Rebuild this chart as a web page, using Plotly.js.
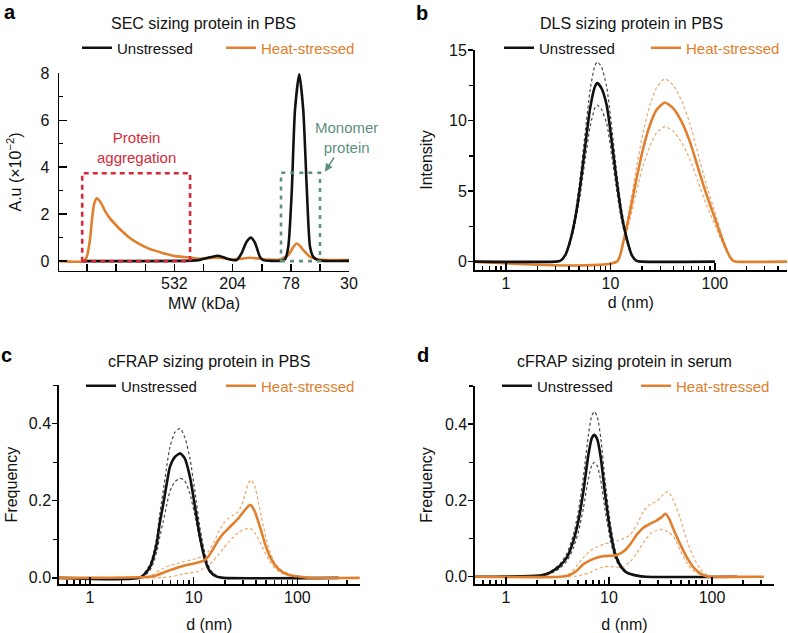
<!DOCTYPE html>
<html>
<head>
<meta charset="utf-8">
<script src="https://cdn.plot.ly/plotly-3.0.1.min.js"></script>
<style>html,body{margin:0;padding:0;background:#fff;overflow:hidden;}#chart{width:788px;height:633px;}</style>
</head>
<body>
<div id="chart"></div>
<script>
// ---------- Panel a : SEC (x = MW in kDa) ----------
const secHeatMW = [3500, 2344, 2254, 2138, 2056, 1990, 1914, 1862, 1762, 1668, 1538, 1416, 1268, 1138, 964, 818, 656, 527, 424, 349, 280, 251, 202, 153, 116, 93.5, 81.5, 75, 71, 67.2, 63.7, 57, 48.3, 30];
const secHeat   = [0, 0, 0.18, 0.89, 1.89, 2.46, 2.67, 2.63, 2.43, 2.14, 1.82, 1.58, 1.29, 1.04, 0.75, 0.54, 0.36, 0.21, 0.16, 0.10, 0.14, 0.14, 0.07, 0.14, 0.07, 0.07, 0.26, 0.60, 0.75, 0.65, 0.47, 0.18, 0.07, 0.04];
const secUnstrMW = [2400, 400, 349, 296, 258, 225, 191, 176, 162, 151, 141, 130, 123, 93.5, 86.1, 81.5, 77.1, 73, 68, 63.7, 60.2, 57, 54, 49.7, 30];
const secUnstr   = [0, 0.02, 0.05, 0.16, 0.23, 0.11, 0.04, 0.33, 0.82, 1.0, 0.78, 0.18, 0.04, 0.01, 0.07, 0.61, 2.88, 6.43, 7.97, 6.43, 3.18, 0.61, 0.18, 0.04, 0.01];
const secTickVals = [532, 204, 78, 30];
const secTickText = ['532', '204', '78', '30'];
const secMinorVals = [2239, 1387, 859, 330, 126, 48.4];

// ---------- Panel b : DLS ----------
const dlsUnstrD  = [0.5, 3.0, 3.3, 3.7, 4.1, 4.6, 5.1, 5.7, 6.4, 7.1, 7.5, 8.2, 9.2, 10.3, 11.5, 12.8, 14.3, 16, 17.8, 20, 100];
const dlsUnstr   = [0, 0, 0.05, 0.47, 1.42, 3.07, 5.2, 8.04, 10.9, 12.4, 12.65, 12.3, 11.1, 8.5, 5.67, 3.3, 1.65, 0.47, 0.05, 0, 0];
const dlsUnstrHi = [0, 0, 0.05, 0.5, 1.55, 3.4, 5.8, 9.0, 12.2, 13.9, 14.15, 13.8, 12.4, 9.5, 6.3, 3.7, 1.85, 0.52, 0.05, 0, 0];
const dlsUnstrLo = [0, 0, 0.05, 0.42, 1.25, 2.7, 4.6, 7.1, 9.6, 10.9, 11.1, 10.8, 9.8, 7.5, 5.0, 2.9, 1.45, 0.42, 0.05, 0, 0];
const dlsHeatD   = [0.5, 11.5, 13.3, 15.4, 17.8, 20.6, 23.9, 27.7, 33.2, 39.9, 48, 57.6, 69.2, 83.3, 100, 120, 139, 150, 160, 490];
const dlsHeat    = [0, 0, 1.42, 3.55, 5.9, 8.04, 9.69, 10.76, 11.28, 10.87, 9.93, 8.51, 6.62, 4.73, 3.07, 1.42, 0.35, 0.05, 0, 0];
const dlsHeatHi  = [0, 0, 1.55, 4.0, 6.7, 9.2, 11.1, 12.35, 12.95, 12.5, 11.4, 9.8, 7.6, 5.4, 3.5, 1.6, 0.4, 0.05, 0, 0];
const dlsHeatLo  = [0, 0, 1.25, 3.0, 5.0, 6.85, 8.2, 9.15, 9.57, 9.25, 8.45, 7.25, 5.65, 4.0, 2.6, 1.2, 0.3, 0.05, 0, 0];

// ---------- Panel c : cFRAP in PBS ----------
const pbsUnstrD  = [0.5, 3.0, 3.5, 3.8, 4.1, 4.4, 4.7, 5.1, 5.5, 5.9, 6.6, 7.4, 8.2, 9.2, 10.3, 11.5, 12.9, 14.4, 16.7, 19.3, 250];
const pbsUnstr   = [0, 0, 0.015, 0.029, 0.055, 0.089, 0.141, 0.193, 0.245, 0.288, 0.314, 0.323, 0.31, 0.262, 0.184, 0.106, 0.046, 0.016, 0.003, 0, 0];
const pbsUnstrHi = [0, 0, 0.02, 0.035, 0.065, 0.105, 0.165, 0.228, 0.29, 0.34, 0.378, 0.388, 0.365, 0.31, 0.222, 0.13, 0.06, 0.022, 0.005, 0, 0];
const pbsUnstrLo = [0, 0, 0.01, 0.02, 0.04, 0.068, 0.105, 0.148, 0.19, 0.225, 0.25, 0.258, 0.252, 0.218, 0.16, 0.095, 0.045, 0.016, 0.003, 0, 0];
const pbsHeatD   = [0.5, 3.8, 4.4, 5.1, 5.9, 6.9, 7.9, 9.2, 10.7, 12.4, 13.8, 15.5, 17.3, 19.3, 21.6, 24.1, 26.9, 30.1, 33.6, 35.5, 39, 43.6, 48.7, 54.4, 60.8, 70.6, 84.8, 106, 132, 400];
const pbsHeat    = [0, 0.003, 0.007, 0.013, 0.02, 0.026, 0.031, 0.035, 0.039, 0.044, 0.055, 0.076, 0.098, 0.115, 0.128, 0.141, 0.154, 0.171, 0.186, 0.189, 0.171, 0.132, 0.089, 0.055, 0.033, 0.016, 0.007, 0.003, 0, 0];
const pbsHeatHi  = [0, 0.005, 0.015, 0.025, 0.032, 0.037, 0.042, 0.046, 0.05, 0.058, 0.068, 0.09, 0.118, 0.14, 0.154, 0.163, 0.171, 0.2, 0.245, 0.254, 0.236, 0.176, 0.115, 0.068, 0.038, 0.02, 0.009, 0.004, 0.001, 0];
const pbsHeatLo  = [0, 0, 0, 0.001, 0.003, 0.006, 0.01, 0.013, 0.016, 0.024, 0.032, 0.045, 0.06, 0.077, 0.092, 0.106, 0.117, 0.125, 0.128, 0.127, 0.117, 0.092, 0.066, 0.042, 0.024, 0.012, 0.005, 0.002, 0, 0];

// ---------- Panel d : cFRAP in serum ----------
const serUnstrD  = [0.5, 2.14, 2.49, 2.89, 3.35, 3.89, 4.52, 5.05, 5.65, 6.32, 6.81, 7.22, 7.73, 8.34, 9.18, 10.3, 11.5, 12.9, 14.9, 18.7, 23, 175];
const serUnstr   = [0, 0.003, 0.007, 0.016, 0.029, 0.05, 0.094, 0.146, 0.224, 0.32, 0.363, 0.372, 0.359, 0.311, 0.216, 0.12, 0.059, 0.029, 0.011, 0.003, 0, 0];
const serUnstrHi = [0, 0.004, 0.009, 0.019, 0.034, 0.06, 0.11, 0.172, 0.262, 0.372, 0.422, 0.433, 0.418, 0.362, 0.252, 0.142, 0.07, 0.034, 0.013, 0.004, 0, 0];
const serUnstrLo = [0, 0.002, 0.005, 0.012, 0.023, 0.04, 0.076, 0.118, 0.18, 0.258, 0.292, 0.3, 0.29, 0.251, 0.175, 0.097, 0.048, 0.024, 0.009, 0.002, 0, 0];
const serHeatD   = [0.5, 3.35, 4.2, 4.87, 5.65, 6.56, 7.62, 8.85, 10.3, 11.9, 13.8, 16.1, 18.7, 21.7, 25.2, 29.2, 32.7, 35.2, 37.9, 42.4, 49.3, 57.3, 66.4, 77.1, 89.6, 100, 320];
const serHeat    = [0, 0, 0.005, 0.016, 0.033, 0.043, 0.05, 0.054, 0.055, 0.057, 0.066, 0.085, 0.111, 0.129, 0.139, 0.148, 0.157, 0.165, 0.155, 0.124, 0.085, 0.05, 0.024, 0.009, 0.001, 0, 0];
const serHeatHi  = [0, 0, 0.009, 0.029, 0.05, 0.068, 0.078, 0.085, 0.09, 0.094, 0.1, 0.11, 0.137, 0.172, 0.19, 0.198, 0.212, 0.221, 0.222, 0.2, 0.152, 0.094, 0.05, 0.02, 0.005, 0, 0];
const serHeatLo  = [0, 0, 0, 0.002, 0.006, 0.011, 0.02, 0.026, 0.027, 0.025, 0.026, 0.04, 0.063, 0.09, 0.113, 0.122, 0.124, 0.122, 0.117, 0.105, 0.068, 0.035, 0.015, 0.006, 0, 0, 0];

// ---------- shared tick labels ----------
const logTickVals = [1, 10, 100];
const logTickText = ['1', '10', '100'];
const logMinorVals = [0.6, 0.7, 0.8, 0.9, 2, 3, 4, 5, 6, 7, 8, 9, 20, 30, 40, 50, 60, 70, 80, 90, 200, 300, 400];
const seriesNames = ['Unstressed', 'Heat-stressed'];

// ---------- styling ----------
const FONT = 'Liberation Sans, Arial, sans-serif';
const BLACK = '#111111', BLACK_D = '#4a4a4a';
const ORANGE = '#E0802E', ORANGE_D = '#EBA66C';
const RED = '#D42A3A', GREEN = '#5E9080';
const W = 788, H = 633;
const px = v => v / W, py = v => 1 - v / H;

function solid(x, y, color, xa, ya, name, leg, rank) {
  return {x: x, y: y, type: 'scatter', mode: 'lines', xaxis: xa, yaxis: ya,
    line: {color: color, width: 2.6, shape: 'spline', smoothing: 0.6},
    name: name, legend: leg, showlegend: !!name, legendrank: rank, hoverinfo: 'skip'};
}
function dashed(x, y, color, xa, ya) {
  return {x: x, y: y, type: 'scatter', mode: 'lines', xaxis: xa, yaxis: ya,
    line: {color: color, width: 1.2, dash: '3px,2.5px', shape: 'spline', smoothing: 0.6},
    showlegend: false, hoverinfo: 'skip'};
}
const heatName = '<span style="color:' + ORANGE + '">' + seriesNames[1] + '</span>';

const traces = [
  // a
  solid(secHeatMW, secHeat, ORANGE, 'x', 'y', heatName, 'legend', 2),
  solid(secUnstrMW, secUnstr, BLACK, 'x', 'y', seriesNames[0], 'legend', 1),
  // b
  dashed(dlsHeatD, dlsHeatHi, ORANGE_D, 'x2', 'y2'),
  dashed(dlsHeatD, dlsHeatLo, ORANGE_D, 'x2', 'y2'),
  dashed(dlsUnstrD, dlsUnstrHi, BLACK_D, 'x2', 'y2'),
  dashed(dlsUnstrD, dlsUnstrLo, BLACK_D, 'x2', 'y2'),
  solid(dlsHeatD, dlsHeat, ORANGE, 'x2', 'y2', heatName, 'legend2', 2),
  solid(dlsUnstrD, dlsUnstr, BLACK, 'x2', 'y2', seriesNames[0], 'legend2', 1),
  // c
  dashed(pbsHeatD, pbsHeatHi, ORANGE_D, 'x3', 'y3'),
  dashed(pbsHeatD, pbsHeatLo, ORANGE_D, 'x3', 'y3'),
  dashed(pbsUnstrD, pbsUnstrHi, BLACK_D, 'x3', 'y3'),
  dashed(pbsUnstrD, pbsUnstrLo, BLACK_D, 'x3', 'y3'),
  solid(pbsUnstrD, pbsUnstr, BLACK, 'x3', 'y3', seriesNames[0], 'legend3', 1),
  solid(pbsHeatD, pbsHeat, ORANGE, 'x3', 'y3', heatName, 'legend3', 2),
  // d
  dashed(serHeatD, serHeatHi, ORANGE_D, 'x4', 'y4'),
  dashed(serHeatD, serHeatLo, ORANGE_D, 'x4', 'y4'),
  dashed(serUnstrD, serUnstrHi, BLACK_D, 'x4', 'y4'),
  dashed(serUnstrD, serUnstrLo, BLACK_D, 'x4', 'y4'),
  solid(serUnstrD, serUnstr, BLACK, 'x4', 'y4', seriesNames[0], 'legend4', 1),
  solid(serHeatD, serHeat, ORANGE, 'x4', 'y4', heatName, 'legend4', 2)
];

const axBase = {showline: true, linecolor: '#000', linewidth: 1.5, showgrid: false, zeroline: false,
  tickcolor: '#000', tickwidth: 1.4, tickfont: {family: FONT, size: 16, color: '#111'}, fixedrange: true};

function logX(domain, range, anchor, title, tstand) {
  return Object.assign({}, axBase, {
    type: 'log', domain: domain, range: range, anchor: anchor,
    tickmode: 'array', tickvals: logTickVals, ticktext: logTickText,
    ticks: 'inside', ticklen: 7, ticklabelstandoff: -2,
    minor: {tickmode: 'array', tickvals: logMinorVals, ticks: 'inside', ticklen: 4, tickwidth: 1.4, tickcolor: '#000'},
    title: {text: title, font: {family: FONT, size: 16, color: '#111'}, standoff: tstand}
  });
}
function linY(domain, range, anchor, vals, text, minorVals, title, inside, tstand) {
  return Object.assign({}, axBase, {
    domain: domain, range: range, anchor: anchor,
    tickmode: 'array', tickvals: vals, ticktext: text,
    ticks: inside ? 'inside' : 'outside', ticklen: inside ? 8 : 5, ticklabelstandoff: inside ? 5 : -2,
    minor: {tickmode: 'array', tickvals: minorVals, ticks: inside ? 'inside' : 'outside', ticklen: 4, tickwidth: 1.4, tickcolor: '#000'},
    title: {text: title, font: {family: FONT, size: 16, color: '#111'}, standoff: tstand}
  });
}

const legBase = {orientation: 'h', xanchor: 'left', yanchor: 'middle', bgcolor: 'rgba(0,0,0,0)',
  font: {family: FONT, size: 15, color: '#111'}, entrywidthmode: 'pixels', itemclick: false, itemdoubleclick: false,
  traceorder: 'normal'};

const ann = (text, x, y, size, color, extra) => Object.assign({text: text, x: x, y: y, xref: 'paper', yref: 'paper',
  showarrow: false, xanchor: 'center', yanchor: 'middle', font: {family: FONT, size: size, color: color}}, extra || {});

const layout = {
  width: W, height: H, margin: {l: 0, r: 0, t: 0, b: 0, autoexpand: false},
  paper_bgcolor: '#fff', plot_bgcolor: 'rgba(0,0,0,0)', showlegend: true,
  font: {family: FONT, color: '#111'},
  xaxis: Object.assign({}, axBase, {
    type: 'log', domain: [px(59), px(349)], range: [3.551, 1.477], anchor: 'y',
    tickmode: 'array', tickvals: secTickVals, ticktext: secTickText,
    ticks: 'inside', ticklen: 7, ticklabelstandoff: -2,
    minor: {tickmode: 'array', tickvals: secMinorVals, ticks: 'inside', ticklen: 7, tickwidth: 1.4, tickcolor: '#000'},
    title: {text: 'MW (kDa)', font: {family: FONT, size: 16, color: '#111'}, standoff: 6}
  }),
  yaxis: linY([py(270.7), py(73.3)], [-0.41, 8], 'x', [0, 2, 4, 6, 8], ['0', '2', '4', '6', '8'], [1, 3, 5, 7], 'A.u (×10<sup>−2</sup>)', true, 15),
  xaxis2: logX([px(474.5), px(787)], [-0.301, 2.690], 'y2', 'd (nm)', 6),
  yaxis2: linY([py(270), py(50)], [-0.59, 15], 'x2', [0, 5, 10, 15], ['0', '5', '10', '15'], [2.5, 7.5, 12.5], 'Intensity', false, 12),
  xaxis3: logX([px(58.8), px(359.8)], [-0.301, 2.602], 'y3', 'd (nm)', 16),
  yaxis3: linY([py(584), py(385.2)], [-0.016, 0.5], 'x3', [0, 0.2, 0.4], ['0.0', '0.2', '0.4'], [0.1, 0.3, 0.5], 'Frequency', false, 7),
  xaxis4: logX([px(474.9), px(774)], [-0.301, 2.602], 'y4', 'd (nm)', 16),
  yaxis4: linY([py(584), py(386)], [-0.019, 0.5], 'x4', [0, 0.2, 0.4], ['0.0', '0.2', '0.4'], [0.1, 0.3, 0.5], 'Frequency', false, 8),
  legend:  Object.assign({}, legBase, {x: px(77),  y: py(48),  entrywidth: 99}),
  legend2: Object.assign({}, legBase, {x: px(499), y: py(48),  entrywidth: 102}),
  legend3: Object.assign({}, legBase, {x: px(81),  y: py(386), entrywidth: 95}),
  legend4: Object.assign({}, legBase, {x: px(497), y: py(386), entrywidth: 94}),
  shapes: [
    {type: 'rect', xref: 'x domain', yref: 'y', x0: 0.080, x1: 0.452, y0: 0, y1: 3.74,
      line: {color: RED, width: 2.6, dash: '5px,4px'}, fillcolor: 'rgba(0,0,0,0)', layer: 'above'},
    {type: 'rect', xref: 'x domain', yref: 'y', x0: 0.7655, x1: 0.900, y0: 0, y1: 3.76,
      line: {color: GREEN, width: 2.6, dash: '4px,5px'}, fillcolor: 'rgba(0,0,0,0)', layer: 'above'}
  ],
  annotations: [
    ann('<b>a</b>', px(10), py(12), 20, '#000'),
    ann('<b>b</b>', px(421.5), py(13), 20, '#000'),
    ann('<b>c</b>', px(6.5), py(355), 20, '#000'),
    ann('<b>d</b>', px(422.5), py(355), 20, '#000'),
    ann('SEC sizing protein in PBS', px(203), py(23), 16, '#111'),
    ann('DLS sizing protein in PBS', px(631.5), py(23), 16, '#111'),
    ann('cFRAP sizing protein in PBS', px(209), py(361), 16, '#111'),
    ann('cFRAP sizing protein in serum', px(624), py(361), 16, '#111'),
    {text: 'Protein<br>aggregation', xref: 'x', yref: 'y', x: 2.996, y: 4.82, showarrow: false,
      xanchor: 'center', yanchor: 'middle', font: {family: FONT, size: 15, color: RED}},
    {text: 'Monomer<br>protein', xref: 'x', yref: 'y', x: 1.649, y: 3.81, showarrow: true,
      arrowhead: 2, arrowsize: 1, arrowwidth: 1.6, arrowcolor: GREEN, ax: 22, ay: -34, standoff: 0,
      font: {family: FONT, size: 15, color: GREEN}}
  ]
};

Plotly.newPlot('chart', traces, layout, {staticPlot: true, displayModeBar: false});
</script>
</body>
</html>
